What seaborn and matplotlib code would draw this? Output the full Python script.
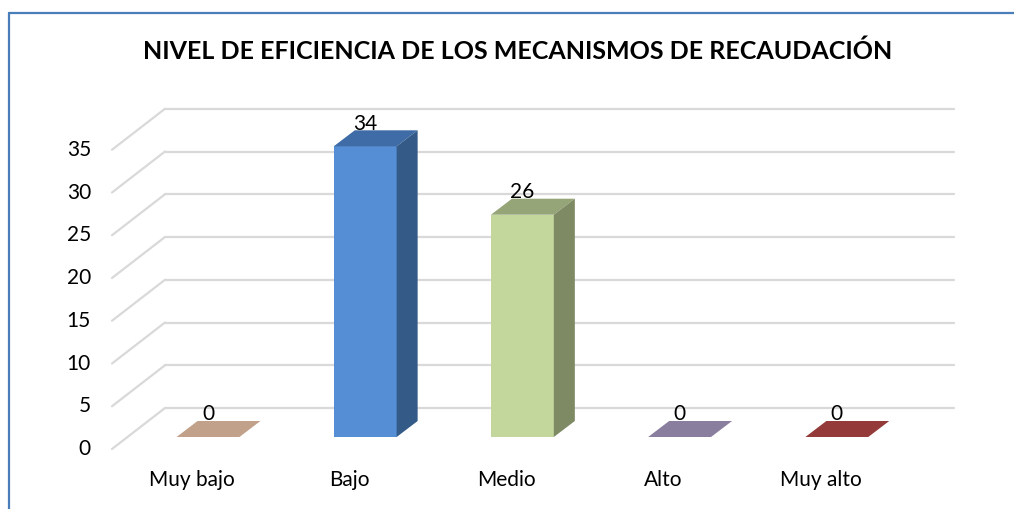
import matplotlib
matplotlib.use("Agg")
import matplotlib.pyplot as plt
from matplotlib.patches import Polygon
from matplotlib.lines import Line2D
import seaborn as sns
import pandas as pd

# ---- data ----
categories = ["Muy bajo", "Bajo", "Medio", "Alto", "Muy alto"]
values = [0, 34, 26, 0, 0]
y_ticks = [0, 5, 10, 15, 20, 25, 30, 35]
title = "NIVEL DE EFICIENCIA DE LOS MECANISMOS DE RECAUDACIÓN"

# ---- styles ----
front_colors = ["#D9B9A1", "#558ED5", "#C3D69B", "#A79BBD", "#B0504E"]
top_colors = ["#C1A18A", "#3F6CA6", "#95A577", "#8A7E9E", "#943B3A"]
side_colors = ["#A88A74", "#345A88", "#7E8A63", "#746A87", "#7A2F2E"]
grid_color = "#D9D9D9"

sns.set_theme(style="white")
plt.rcParams["font.family"] = ["Lato", "DejaVu Sans"]

W, H, DPI = 1014, 509, 100
fig = plt.figure(figsize=(W / DPI, H / DPI), dpi=DPI)

# axes placed in pixels so that category i centre -> 208 + 157.2*i px, value 0 -> 437 px
px_left, px_right, py_top, py_bot = 60, 1000, 95, 470
xs, x0px = 157.2, 208.0
ys, y0px = 8.55, 437.0
ax = fig.add_axes([px_left / W, 1 - py_bot / H, (px_right - px_left) / W, (py_bot - py_top) / H])

# depth offsets (data units)
bar_dx, bar_dy = 21 / xs, 16 / ys          # bar depth
wall_dx, wall_dy = 37.5 / xs, 29 / ys       # from bar front to back wall
front_dx, front_dy = -53 / xs, -41 / ys     # from back wall to front of floor
wall_x0 = (165 - x0px) / xs
wall_x1 = (954 - x0px) / xs

df = pd.DataFrame({"cat": categories, "val": values})
sns.barplot(data=df, x="cat", y="val", hue="cat", palette=front_colors, width=0.40,
            legend=False, ax=ax, zorder=3, linewidth=0, saturation=1)
ax.set_xlim((px_left - x0px) / xs, (px_right - x0px) / xs)
ax.set_ylim((y0px - py_bot) / ys, (y0px - py_top) / ys)
ax.axis("off")

# gridlines on back wall + side wall diagonals
for v in y_ticks:
    yb = v + wall_dy
    ax.add_line(Line2D([wall_x0, wall_x1], [yb, yb], color=grid_color, lw=1.6, zorder=1))
    ax.add_line(Line2D([wall_x0, wall_x0 + front_dx], [yb, yb + front_dy],
                       color=grid_color, lw=1.6, zorder=1))
    ax.text(wall_x0 + front_dx - 21 / xs, yb + front_dy, str(v), ha="right", va="center",
            fontsize=15, color="black")

bars = sorted(ax.patches, key=lambda p: p.get_x())
for i, p in enumerate(bars):
    x = p.get_x(); w = p.get_width(); h = p.get_height()
    top = Polygon([(x, h), (x + w, h), (x + w + bar_dx, h + bar_dy), (x + bar_dx, h + bar_dy)],
                  closed=True, facecolor=top_colors[i], edgecolor="none", zorder=4)
    ax.add_patch(top)
    if h > 0:
        side = Polygon([(x + w, 0), (x + w + bar_dx, bar_dy), (x + w + bar_dx, h + bar_dy), (x + w, h)],
                       closed=True, facecolor=side_colors[i], edgecolor="none", zorder=4)
        ax.add_patch(side)
    ax.text(x + w / 2, h + bar_dy - 0.4, str(values[i]), ha="center", va="bottom",
            fontsize=15, color="black", zorder=5)
    ax.text(x + w / 2 - 16 / xs, (y0px - 480) / ys, categories[i], ha="center", va="center",
            fontsize=15, color="black")

# title
fig.text((143 + 893) / 2 / W, 1 - 51 / H, title, ha="center", va="center",
         fontsize=18, fontweight="bold", color="black")

# chart frame (blue border, extends beyond right/bottom edges)
fig.add_artist(Line2D([8.5 / W, 8.5 / W], [1 - 13 / H, 0], transform=fig.transFigure,
                      color="#4A7EBB", lw=1.6))
fig.add_artist(Line2D([8.5 / W, 1], [1 - 13 / H, 1 - 13 / H], transform=fig.transFigure,
                      color="#4A7EBB", lw=1.6))

fig.savefig("out.png", dpi=DPI, facecolor="white")
